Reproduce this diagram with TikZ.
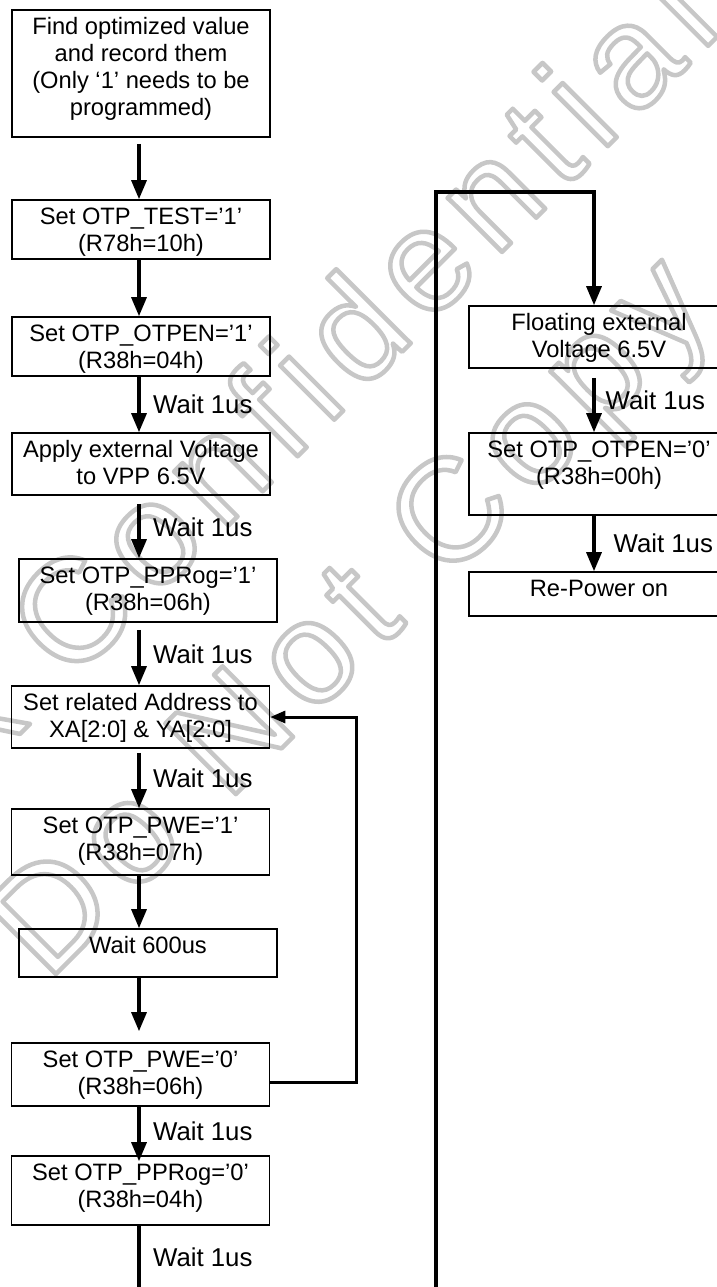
\documentclass[tikz,border=0pt]{standalone}
\usepackage{fontspec}
\setmainfont{Liberation Sans}
\newfontfamily\wmfont[LetterSpace=10]{Liberation Sans}
\usetikzlibrary{arrows.meta,calc}
\newcommand\bt[2]{\vbox to #1pt{\vskip 5.6pt\hbox{\begin{tabular}{@{}c@{}}#2\end{tabular}}\vfil}}
\newcommand\outl[1]{\special{pdf:code 1 Tr 4.5 w 0.78 G 1 j}#1\special{pdf:code 0 Tr}}
\begin{document}
\begin{tikzpicture}[x=1pt,y=-1pt,
  font=\fontsize{23.7}{27}\selectfont,
  box/.style={draw, line width=1.6pt, inner sep=0pt, minimum width=258pt},
  flow/.style={line width=3.2pt, -{Triangle[length=19pt,width=15pt]}},
  lbl/.style={anchor=west, inner sep=0pt, font=\fontsize{25.8}{28}\selectfont},
  wm/.style={anchor=base, rotate=45, inner sep=0pt, font=\wmfont\fontsize{145}{145}\selectfont},
]
\useasboundingbox (0,0) rectangle (717,1287);
% watermark (behind)
\node[wm] (wm1) at (212,542) {\outl{Himax Confidential}};
\node[wm] (wm2) at (382,648) {\outl{Do Not Copy}};
\coordinate (axL) at (139,0);
\coordinate (axR) at (594,0);
% left column
\node[box] (b1) at (141,73.5) {\bt{127}{Find optimized value\\and record them\\(Only ‘1’ needs to be\\programmed)}};
\node[box] (b2) at (141,229.5) {\bt{59}{Set OTP\_TEST=’1’\\(R78h=10h)}};
\node[box] (b3) at (141,346.5) {\bt{59}{Set OTP\_OTPEN=’1’\\(R38h=04h)}};
\node[box] (b4) at (141,464) {\bt{62}{Apply external Voltage\\to VPP 6.5V}};
\node[box] (b5) at (148,590.5) {\bt{63}{Set OTP\_PPRog=’1’\\(R38h=06h)}};
\node[box] (b6) at (140.5,717) {\bt{62}{Set related Address to\\XA[2:0] \& YA[2:0]}};
\node[box] (b7) at (140.5,842) {\bt{66}{Set OTP\_PWE=’1’\\(R38h=07h)}};
\node[box] (b8) at (148,953) {\bt{48}{Wait 600us}};
\node[box] (b9) at (140.5,1074.5) {\bt{63}{Set OTP\_PWE=’0’\\(R38h=06h)}};
\node[box] (b10) at (140.5,1190.5) {\bt{69}{Set OTP\_PPRog=’0’\\(R38h=04h)}};
% right column
\node[box, minimum width=260pt] (r1) at (599,337) {\bt{62}{Floating external\\Voltage 6.5V}};
\node[box, minimum width=260pt] (r2) at (599,474) {\bt{82}{Set OTP\_OTPEN=’0’\\(R38h=00h)}};
\node[box, minimum width=260pt] (r3) at (599,594) {\bt{44}{Re-Power on}};
% connectors left
\draw[flow, shorten <=6pt] (b1.south -| axL) -- (b2.north -| axL);
\draw[flow] (b2.south -| axL) -- (b3.north -| axL);
\draw[flow] (b3.south -| axL) -- node[lbl, xshift=12.5pt]{Wait 1us} (b4.north -| axL);
\draw[flow, shorten <=8pt] (b4.south -| axL) -- node[lbl, xshift=12.5pt]{Wait 1us} (b5.north -| axL);
\draw[flow, shorten <=7pt] (b5.south -| axL) -- node[lbl, xshift=12.5pt]{Wait 1us} (b6.north -| axL);
\draw[flow, shorten <=4pt] (b6.south -| axL) -- node[lbl, xshift=12.5pt]{Wait 1us} (b7.north -| axL);
\draw[flow] (b7.south -| axL) -- (b8.north -| axL);
\draw[flow, shorten >=11pt] (b8.south -| axL) -- (b9.north -| axL);
\draw[flow, shorten >=-6pt] (b9.south -| axL) -- node[lbl, xshift=12.5pt]{Wait 1us} (b10.north -| axL);
\coordinate (endL) at (139,1292);
\draw[line width=3.2pt] (b10.south -| axL) -- node[lbl, xshift=12.5pt, yshift=1.5pt]{Wait 1us} (endL);
% loop back
\coordinate (lp) at (356,1082);
\draw[line width=3pt, -{Triangle[length=15pt,width=12pt]}] (b9.east |- lp) -- (lp) |- (b6.east);
% continuation to right column
\coordinate (endR) at (436,1292);
\coordinate (topR) at (436,192);
\draw[flow] (endR) -- (topR) -| (r1.north -| axR);
\draw[flow, shorten <=9pt] (r1.south -| axR) -- node[lbl, xshift=10pt]{Wait 1us} (r2.north -| axR);
\draw[flow] (r2.south -| axR) -- node[lbl, xshift=18pt]{Wait 1us} (r3.north -| axR);
\end{tikzpicture}
\end{document}
